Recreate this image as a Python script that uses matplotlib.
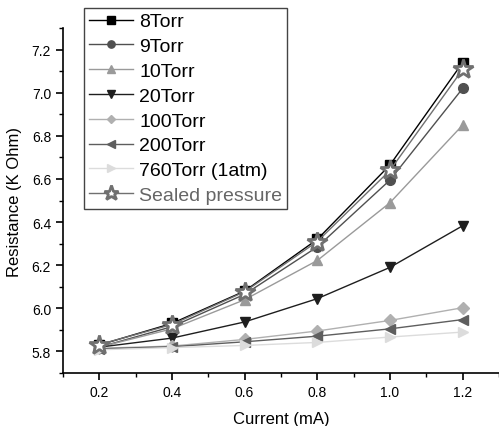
import matplotlib
matplotlib.use("Agg")
import matplotlib.pyplot as plt
from matplotlib.ticker import MultipleLocator

current = [0.2, 0.4, 0.6, 0.8, 1.0, 1.2]

r_8torr = [5.83, 5.93, 6.08, 6.32, 6.665, 7.14]
r_9torr = [5.82, 5.915, 6.065, 6.285, 6.595, 7.02]
r_10torr = [5.82, 5.905, 6.04, 6.222, 6.49, 6.85]
r_20torr = [5.82, 5.862, 5.937, 6.045, 6.19, 6.383]
r_100torr = [5.815, 5.825, 5.856, 5.895, 5.944, 6.003]
r_200torr = [5.812, 5.822, 5.845, 5.871, 5.905, 5.948]
r_760torr = [5.808, 5.818, 5.828, 5.842, 5.867, 5.89]
r_sealed = [5.832, 5.925, 6.077, 6.31, 6.64, 7.108]

series = [
    ("8Torr", r_8torr, "s", "#000000"),
    ("9Torr", r_9torr, "o", "#505050"),
    ("10Torr", r_10torr, "^", "#9a9a9a"),
    ("20Torr", r_20torr, "v", "#1e1e1e"),
    ("100Torr", r_100torr, "D", "#b0b0b0"),
    ("200Torr", r_200torr, "<", "#5e5e5e"),
    ("760Torr (1atm)", r_760torr, ">", "#dcdcdc"),
]

plt.rcParams["font.family"] = ["Liberation Sans", "DejaVu Sans"]

fig = plt.figure(figsize=(4.99, 4.27), dpi=100)
ax = fig.add_axes([0.126, 0.124, 0.874, 0.808])

for label, vals, mk, col in series:
    ms = 6 if mk == "D" else 7
    ax.plot(current, vals, "-", marker=mk, color=col, mfc=col, mec=col,
            ms=ms, lw=1.0, label=label)

ax.plot(current, r_sealed, "-", marker="*", color="#707070", mfc="white",
        mec="#707070", mew=2.0, ms=15, lw=1.0, label="Sealed pressure")

ax.set_xlim(0.1, 1.3)
ax.set_ylim(5.7, 7.3)
ax.xaxis.set_minor_locator(MultipleLocator(0.1))
ax.yaxis.set_minor_locator(MultipleLocator(0.1))
ax.set_xticks([0.2, 0.4, 0.6, 0.8, 1.0, 1.2])
ax.set_xticklabels(["0.2", "0.4", "0.6", "0.8", "1.0", "1.2"])
ax.set_yticks([5.8, 6.0, 6.2, 6.4, 6.6, 6.8, 7.0, 7.2])
ax.set_yticklabels(["5.8", "6.0", "6.2", "6.4", "6.6", "6.8", "7.0", "7.2"])
ax.tick_params(which="major", direction="out", length=5, width=1.2, labelsize=10)
ax.tick_params(which="minor", direction="out", length=3, width=1.0)
ax.spines["top"].set_visible(False)
ax.spines["right"].set_visible(False)
ax.spines["left"].set_linewidth(1.2)
ax.spines["bottom"].set_linewidth(1.2)

ax.set_xlabel("Current (mA)", fontsize=12, labelpad=9)
ax.set_ylabel("Resistance (K Ohm)", fontsize=12, labelpad=7)

leg = ax.legend(loc="upper left", bbox_to_anchor=(0.168, 0.979),
                bbox_transform=fig.transFigure, fontsize=14, frameon=True,
                fancybox=False, edgecolor="#444444", framealpha=1,
                handlelength=2.3, handletextpad=0.3, labelspacing=0.37,
                borderpad=0.25, borderaxespad=0, markerscale=0.75)
leg.get_frame().set_linewidth(1.0)
leg.get_texts()[-1].set_color("#666666")

fig.savefig("out.png", dpi=100)
